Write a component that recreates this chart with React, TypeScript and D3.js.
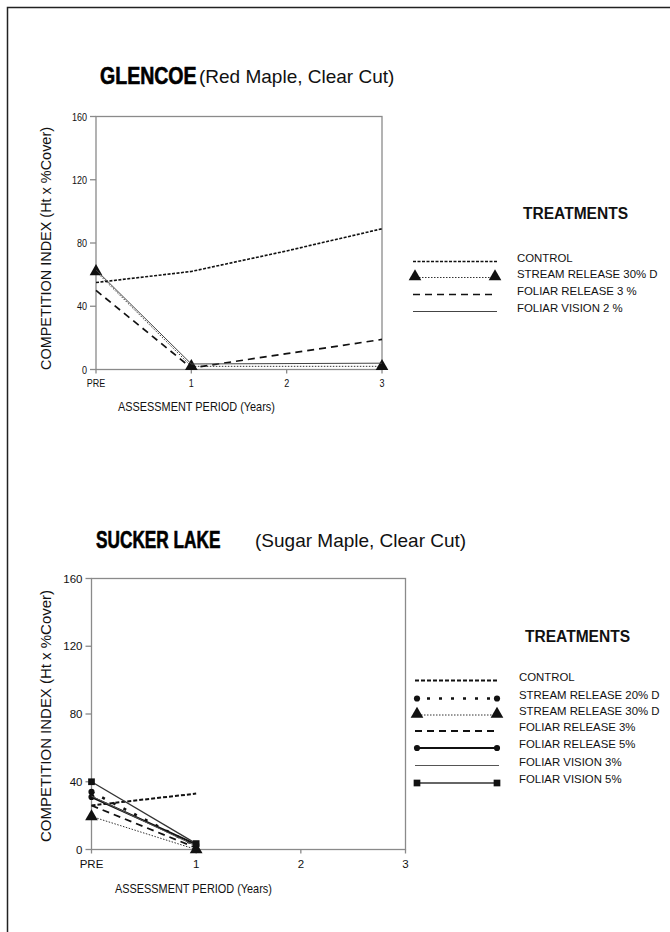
import React from "react";
import * as d3 from "d3";

// x categories and y ticks shared by both panels
const periods = ["PRE", "1", "2", "3"];
const yTicks = [0, 40, 80, 120, 160];

// GLENCOE (Red Maple, Clear Cut)
const glNames = ["CONTROL", "STREAM RELEASE 30% D", "FOLIAR RELEASE 3 %", "FOLIAR VISION 2 %"];
const glControl = [55, 62, 75, 89];
const glStream30 = [62, 2, null, 2];
const glFoliarRel3 = [50, 1, 10, 19];
const glFoliarVis2 = [63, 3.5, null, 4];

// SUCKER LAKE (Sugar Maple, Clear Cut)
const slNames = [
  "CONTROL",
  "STREAM RELEASE 20% D",
  "STREAM RELEASE 30% D",
  "FOLIAR RELEASE 3%",
  "FOLIAR RELEASE 5%",
  "FOLIAR VISION 3%",
  "FOLIAR VISION 5%",
];
const slControl = [26, 33, null, null];
const slStream20 = [34, 2, null, null];
const slStream30 = [19.5, 0, null, null];
const slFoliarRel3 = [26, 1, null, null];
const slFoliarRel5 = [31, 3, null, null];
const slFoliarVis3 = [31.5, 2, null, null];
const slFoliarVis5 = [40, 3.5, null, null];

type Style = { width: number; dash?: string; color: string; marker?: "triangle" | "circle" | "square" };

const glStyles: Style[] = [
  { width: 1.6, dash: "3 1.5", color: "#111" },
  { width: 1, dash: "1.5 1.5", color: "#333", marker: "triangle" },
  { width: 1.7, dash: "7 5", color: "#111" },
  { width: 1, color: "#444" },
];
const slStyles: Style[] = [
  { width: 2, dash: "4 2", color: "#111" },
  { width: 2.6, dash: "3 9", color: "#111", marker: "circle" },
  { width: 1, dash: "1.5 1.5", color: "#333", marker: "triangle" },
  { width: 1.8, dash: "7 5", color: "#111" },
  { width: 2, color: "#111", marker: "circle" },
  { width: 1, color: "#555" },
  { width: 1.3, color: "#333", marker: "square" },
];

const sans = "'Liberation Sans', Arial, sans-serif";

function markerPath(m: string) {
  if (m === "triangle") return d3.symbol(d3.symbolTriangle, 70)()!;
  if (m === "square") return d3.symbol(d3.symbolSquare, 45)()!;
  return d3.symbol(d3.symbolCircle, 30)()!;
}

type PanelProps = {
  left: number; right: number; top: number; bottom: number;
  series: (number | null)[][]; styles: Style[]; names: string[];
  tickSize: number; tickScale: number; tickLen: number;
  yTitleX: number; yTitleY: number; yTitleLen: number; xTitleX: number; xTitleY: number;
  legendX: number; legendTitleY: number; legendRows: number[];
};

function Panel(p: PanelProps) {
  const x = d3.scaleLinear().domain([0, 3]).range([p.left, p.right]);
  const y = d3.scaleLinear().domain([0, 160]).range([p.bottom, p.top]);
  const line = d3.line<[number, number]>().x((d) => x(d[0])).y((d) => y(d[1]));
  const axisColor = "#8a8a8a";
  return (
    <g>
      <rect x={p.left} y={p.top} width={p.right - p.left} height={p.bottom - p.top}
        fill="none" stroke={axisColor} strokeWidth={1.3} />
      {yTicks.map((t) => (
        <g key={"y" + t}>
          <line x1={p.left - 6} x2={p.left} y1={y(t)} y2={y(t)} stroke={axisColor} strokeWidth={1.3} />
          <text transform={`translate(${p.left - 9},${y(t) + 4}) scale(${p.tickScale},1)`} textAnchor="end"
            fontFamily={sans} fontSize={p.tickSize} fill="#111">{t}</text>
        </g>
      ))}
      {periods.map((lab, i) => (
        <g key={"x" + lab}>
          <line x1={x(i)} x2={x(i)} y1={p.bottom} y2={p.bottom + 4} stroke={axisColor} strokeWidth={1.3} />
          <text transform={`translate(${x(i)},${p.bottom + p.tickLen}) scale(${p.tickScale},1)`} textAnchor="middle"
            fontFamily={sans} fontSize={p.tickSize} fill="#111">{lab}</text>
        </g>
      ))}
      <text transform={`translate(${p.yTitleX},${p.yTitleY}) rotate(-90)`} textAnchor="middle"
        fontFamily={sans} fontSize={14.5} textLength={p.yTitleLen} lengthAdjust="spacingAndGlyphs" fill="#111">
        COMPETITION INDEX (Ht x %Cover)
      </text>
      <text transform={`translate(${p.xTitleX},${p.xTitleY}) scale(0.82,1)`} fontFamily={sans} fontSize={13.3}
        fill="#111">ASSESSMENT PERIOD (Years)</text>
      {p.series.map((vals, si) => {
        const st = p.styles[si];
        const pts = vals.map((v, i) => [i, v] as [number, number | null])
          .filter((d) => d[1] !== null) as [number, number][];
        return (
          <g key={"s" + si}>
            <path d={line(pts)!} fill="none" stroke={st.color} strokeWidth={st.width}
              strokeDasharray={st.dash} strokeLinejoin="round" />
            {st.marker && pts.map((d, i) => (
              <path key={i} d={markerPath(st.marker!)} transform={`translate(${x(d[0])},${y(d[1])})`} fill="#111" />
            ))}
          </g>
        );
      })}
      <text x={p.legendX + 110} y={p.legendTitleY} fontFamily={sans} fontWeight="bold" fontSize={16}
        textLength={105} lengthAdjust="spacingAndGlyphs" fill="#111">TREATMENTS</text>
      {p.names.map((nm, i) => {
        const st = p.styles[i];
        const ly = p.legendRows[i];
        const x1 = p.legendX, x2 = p.legendX + 84;
        return (
          <g key={"l" + i}>
            <line x1={x1} x2={x2} y1={ly} y2={ly} stroke={st.color} strokeWidth={st.width} strokeDasharray={st.dash} />
            {st.marker && [x1 + 2, x2 - 2].map((mx, k) => (
              <path key={k} d={markerPath(st.marker!)} transform={`translate(${mx},${ly - (st.marker === "triangle" ? 1 : 0)})`} fill="#111" />
            ))}
            <text x={p.legendX + 104} y={ly} fontFamily={sans} fontSize={11.4} fill="#111">{nm}</text>
          </g>
        );
      })}
    </g>
  );
}

export default function App() {
  return (
    <div style={{ position: "absolute", left: 0, top: 0 }}>
      <svg width={670} height={932} style={{ display: "block", background: "#fff" }}>
        <rect x={7.5} y={7.5} width={700} height={1000} fill="none" stroke="#222" strokeWidth={1.5} />

        <text transform="translate(100,83.5) scale(0.85,1)" fontFamily={sans} fontWeight="bold" fontSize={23}
          stroke="#000" strokeWidth={0.6} fill="#000">GLENCOE</text>
        <text x={199} y={83} fontFamily={sans} fontSize={19} fill="#111">(Red Maple, Clear Cut)</text>
        <Panel left={96} right={382} top={116.5} bottom={369.5}
          series={[glControl, glStream30, glFoliarRel3, glFoliarVis2]} styles={glStyles} names={glNames}
          tickSize={11} tickScale={0.82} tickLen={17.5}
          yTitleX={50.5} yTitleY={248.5} yTitleLen={243} xTitleX={118} xTitleY={411}
          legendX={413} legendTitleY={219} legendRows={[261.5, 277.5, 294.5, 311.5]} />

        <text transform="translate(96,547.5) scale(0.75,1)" fontFamily={sans} fontWeight="bold" fontSize={23}
          stroke="#000" strokeWidth={0.6} fill="#000">SUCKER LAKE</text>
        <text x={255} y={547} fontFamily={sans} fontSize={19} fill="#111">(Sugar Maple, Clear Cut)</text>
        <Panel left={91.5} right={405.5} top={578.5} bottom={849.5}
          series={[slControl, slStream20, slStream30, slFoliarRel3, slFoliarRel5, slFoliarVis3, slFoliarVis5]}
          styles={slStyles} names={slNames}
          tickSize={11.5} tickScale={1} tickLen={18.5}
          yTitleX={50.5} yTitleY={716} yTitleLen={252} xTitleX={115} xTitleY={893}
          legendX={415} legendTitleY={642} legendRows={[680.5, 698.5, 715, 731, 748, 765.5, 783]} />
      </svg>
    </div>
  );
}
